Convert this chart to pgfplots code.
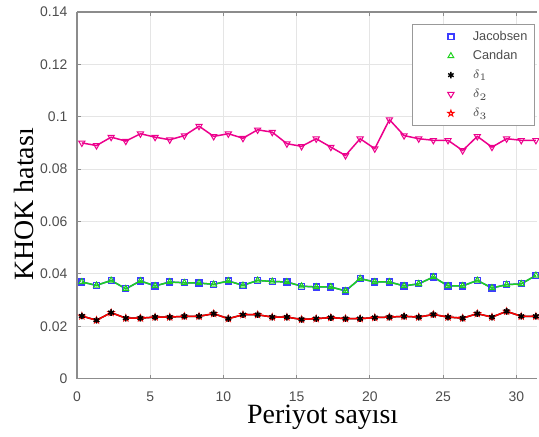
\documentclass[border=0pt]{standalone}
\usepackage{fontspec}
\setmainfont{Liberation Serif}
\newfontfamily\arial{Liberation Sans}
\usepackage{pgfplots}
\usepackage{pgfplotstable}
\pgfplotsset{compat=1.18}

\definecolor{tickgray}{HTML}{4D4D4D}
\definecolor{axgray}{HTML}{8C8C8C}
\definecolor{mgreen}{HTML}{1ED21E}
\definecolor{mblue}{HTML}{3C3CFF}

% five-pointed star, outline
\pgfdeclareplotmark{pentagram}{%
  \pgfpathmoveto{\pgfqpoint{0pt}{\pgfplotmarksize}}%
  \pgfpathlineto{\pgfqpoint{-0.2245\pgfplotmarksize}{0.309\pgfplotmarksize}}%
  \pgfpathlineto{\pgfqpoint{-0.9511\pgfplotmarksize}{0.309\pgfplotmarksize}}%
  \pgfpathlineto{\pgfqpoint{-0.3633\pgfplotmarksize}{-0.118\pgfplotmarksize}}%
  \pgfpathlineto{\pgfqpoint{-0.5878\pgfplotmarksize}{-0.809\pgfplotmarksize}}%
  \pgfpathlineto{\pgfqpoint{0pt}{-0.382\pgfplotmarksize}}%
  \pgfpathlineto{\pgfqpoint{0.5878\pgfplotmarksize}{-0.809\pgfplotmarksize}}%
  \pgfpathlineto{\pgfqpoint{0.3633\pgfplotmarksize}{-0.118\pgfplotmarksize}}%
  \pgfpathlineto{\pgfqpoint{0.9511\pgfplotmarksize}{0.309\pgfplotmarksize}}%
  \pgfpathlineto{\pgfqpoint{0.2245\pgfplotmarksize}{0.309\pgfplotmarksize}}%
  \pgfpathclose\pgfusepathqstroke}

% Jacobsen / Candan
\pgfplotstableread{
x y
0.33 0.0369
1.33 0.0356
2.33 0.0375
3.33 0.0343
4.33 0.0373
5.33 0.0354
6.33 0.0369
7.33 0.0366
8.33 0.0365
9.33 0.0360
10.33 0.0373
11.33 0.0356
12.33 0.0375
13.33 0.0371
14.33 0.0369
15.33 0.0353
16.33 0.0350
17.33 0.0350
18.33 0.0335
19.33 0.0382
20.33 0.0369
21.33 0.0369
22.33 0.0354
23.33 0.0362
24.33 0.0388
25.33 0.0354
26.33 0.0354
27.33 0.0375
28.33 0.0346
29.33 0.0359
30.33 0.0362
31.33 0.0394
}\tabjc

% delta_1 / delta_3
\pgfplotstableread{
x y
0.33 0.0239
1.33 0.0223
2.33 0.0252
3.33 0.0231
4.33 0.0231
5.33 0.0235
6.33 0.0235
7.33 0.0238
8.33 0.0238
9.33 0.0248
10.33 0.0229
11.33 0.0244
12.33 0.0244
13.33 0.0235
14.33 0.0235
15.33 0.0226
16.33 0.0229
17.33 0.0233
18.33 0.0229
19.33 0.0229
20.33 0.0233
21.33 0.0235
22.33 0.0238
23.33 0.0235
24.33 0.0245
25.33 0.0235
26.33 0.0231
27.33 0.0248
28.33 0.0235
29.33 0.0257
30.33 0.0238
31.33 0.0238
}\tabdel

% delta_2
\pgfplotstableread{
x y
0.33 0.0900
1.33 0.0890
2.33 0.0922
3.33 0.0907
4.33 0.0935
5.33 0.0922
6.33 0.0912
7.33 0.0928
8.33 0.0964
9.33 0.0925
10.33 0.0935
11.33 0.0918
12.33 0.0950
13.33 0.0941
14.33 0.0897
15.33 0.0887
16.33 0.0916
17.33 0.0884
18.33 0.0852
19.33 0.0916
20.33 0.0878
21.33 0.0989
22.33 0.0928
23.33 0.0916
24.33 0.0910
25.33 0.0910
26.33 0.0871
27.33 0.0925
28.33 0.0884
29.33 0.0916
30.33 0.0910
31.33 0.0910
}\tabdeltwo

\begin{document}
\begin{tikzpicture}
\begin{axis}[
    name=ax,
    scale only axis,
    width=230.85pt, height=184pt,
    xmin=0, xmax=31.41, ymin=0, ymax=0.14,
    axis y line*=left,
    xtick={0,5,10,15,20,25,30},
    ytick={0,0.02,0.04,0.06,0.08,0.1,0.12,0.14},
    scaled y ticks=false,
    yticklabel style={/pgf/number format/fixed,/pgf/number format/precision=2,xshift=-1.3pt},
    xticklabel style={yshift=-3pt},
    /pgf/number format/assume math mode=true,
    ticklabel style={font=\arial\fontsize{7}{8}\selectfont, text=tickgray},
    tick align=inside, major tick length=2pt,
    tick style={axgray, line width=0.5pt},
    axis line style={axgray, line width=0.6pt},
    grid=major, major grid style={black!10, line width=0.5pt},
    xlabel={Periyot sayısı}, ylabel={KHOK hatası},
    every axis x label/.style={at={(axis description cs:0.534,-0.1223)},anchor=base,
        font=\fontsize{14}{16}\selectfont},
    every axis y label/.style={at={(axis description cs:-0.0953,0.475)},rotate=90,anchor=base,
        font=\fontsize{14}{16}\selectfont},
    legend cell align=left,
    legend style={at={(axis description cs:0.9957,0.9674)}, anchor=north east,
        draw=black!40, line width=0.5pt, fill=white,
        font=\arial\fontsize{6.4}{7}\selectfont, text=tickgray,
        inner xsep=0pt, inner ysep=3pt, row sep=3.1pt,
        nodes={inner sep=0pt, text height=5pt, text depth=1.5pt}},
    legend image code/.code={%
        \pgfpathrectangle{\pgfpoint{0pt}{-1pt}}{\pgfpoint{30.5pt}{2pt}}\pgfusepath{use as bounding box}%
        \draw[#1] plot[only marks] coordinates {(19.5pt,0pt)};},
]
\addplot[mblue, line width=0.75pt, mark=square, mark size=1.5pt, mark options={draw=mblue, line width=0.65pt}] table {\tabjc};
\addlegendentry{\makebox[31pt][l]{Jacobsen}}
\addplot[mgreen, line width=0.75pt, mark=triangle, mark size=1.7pt, mark options={line width=0.5pt}] table {\tabjc};
\addlegendentry{Candan}
\addplot[black, line width=0.75pt, mark=asterisk, mark size=1.6pt, mark options={line width=0.7pt}] table {\tabdel};
\addlegendentry{$\delta_1$}
\addplot[magenta, line width=0.75pt, mark=triangle, mark size=1.8pt, mark options={rotate=180, line width=0.5pt}] table {\tabdeltwo};
\addlegendentry{$\delta_2$}
\addplot[red, line width=0.75pt, mark=pentagram, mark size=1.6pt, mark options={line width=0.5pt}] table {\tabdel};
\addlegendentry{$\delta_3$}
\addplot[forget plot, only marks, black, mark=asterisk, mark size=1.6pt, mark options={line width=0.7pt}] table {\tabdel};
\end{axis}
\path (ax.south west) ++(-38.65pt,-28pt) coordinate (bl);
\path (bl) rectangle ++(269.5pt,218pt);
\end{tikzpicture}
\end{document}
